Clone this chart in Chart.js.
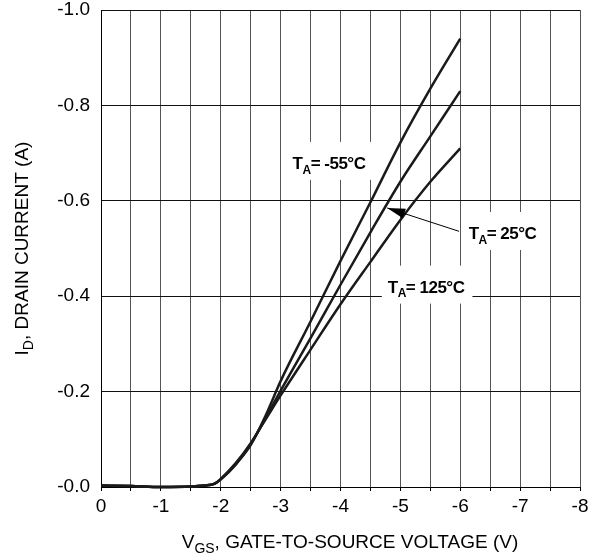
<!DOCTYPE html>
<html>
<head>
<meta charset="utf-8">
<script src="https://cdn.jsdelivr.net/npm/chart.js@4.4.1/dist/chart.umd.min.js"></script>
<style>
  html, body { margin: 0; padding: 0; background: #fff; }
  #wrap { width: 600px; height: 560px; }
</style>
</head>
<body>
<div id="wrap"><canvas id="myChart" width="600" height="560"></canvas></div>
<script>
// gate-to-source voltage (V) and drain current (A)
var vgs = [0, -0.5, -1, -1.5, -1.8, -1.9, -2, -2.25, -2.5, -2.75, -3, -3.5, -4, -4.5, -5, -5.5, -6];
var idMinus55 = [-0.003, -0.002, 0.0, -0.001, -0.004, -0.007, -0.016, -0.048, -0.088, -0.15, -0.222, -0.347, -0.474, -0.597, -0.722, -0.835, -0.94];
var id25 = [-0.003, -0.002, 0.0, -0.001, -0.004, -0.007, -0.016, -0.047, -0.09, -0.145, -0.202, -0.312, -0.424, -0.534, -0.64, -0.735, -0.83];
var id125 = [-0.003, -0.002, 0.0, -0.001, -0.004, -0.007, -0.017, -0.05, -0.092, -0.142, -0.192, -0.288, -0.383, -0.472, -0.56, -0.64, -0.71];

var seriesNames = ["-55°C", "25°C", "125°C"];
// label anchor (left edge, baseline) in data units
var labelX = [-3.2, -6.14, -4.79];
var labelY = [-0.667, -0.52, -0.4075];
// arrow for the 25°C label: from -> to, data units
var arrowFrom = [-5.98, -0.536];
var arrowTo = [-4.78, -0.585];

var FONT = "'Liberation Sans', Arial, Helvetica, sans-serif";

function toPoints(ys){
    return vgs.map(function(v, i){ return {x: v, y: ys[i]}; });
}

function makeSet(name, ys){
    return {
        label: name,
        data: toPoints(ys),
        borderColor: '#1a1a1a',
        borderWidth: 2.5,
        pointRadius: 0,
        cubicInterpolationMode: 'monotone',
        clip: false,
        fill: false
    };
}

// text with a subscript piece, e.g. I_D
function partsWidth(ctx, parts, size, subSize, weight){
    var w = 0;
    parts.forEach(function(p){
        ctx.font = weight + ' ' + (p.sub ? subSize : size) + 'px ' + FONT;
        w += ctx.measureText(p.t).width;
    });
    return w;
}

function drawParts(ctx, parts, x, y, size, subSize, weight){
    var cx = x;
    parts.forEach(function(p){
        ctx.font = weight + ' ' + (p.sub ? subSize : size) + 'px ' + FONT;
        ctx.fillText(p.t, cx, p.sub ? y + size * 0.28 : y);
        cx += ctx.measureText(p.t).width;
    });
}

var titlesPlugin = {
    id: 'titles',
    afterDraw: function(chart){
        var ctx = chart.ctx;
        var area = chart.chartArea;
        ctx.save();
        ctx.fillStyle = '#000';
        ctx.textBaseline = 'alphabetic';
        ctx.textAlign = 'left';

        // x title
        var xp = [{t: 'V'}, {t: 'GS', sub: true}, {t: ', GATE-TO-SOURCE VOLTAGE (V)'}];
        var w = partsWidth(ctx, xp, 19, 14, 'normal');
        drawParts(ctx, xp, 350 - w / 2, 548, 19, 14, 'normal');

        // y title, rotated
        var yp = [{t: 'I'}, {t: 'D', sub: true}, {t: ', DRAIN CURRENT (A)'}];
        w = partsWidth(ctx, yp, 19, 14, 'normal');
        ctx.translate(28, (area.top + area.bottom) / 2);
        ctx.rotate(-Math.PI / 2);
        drawParts(ctx, yp, -w / 2, 0, 19, 14, 'normal');
        ctx.restore();
    }
};

var labelsPlugin = {
    id: 'tempLabels',
    afterDatasetsDraw: function(chart){
        var ctx = chart.ctx;
        var xs = chart.scales.x, ys = chart.scales.y;
        ctx.save();

        // arrow to the 25°C curve
        var ax0 = xs.getPixelForValue(arrowFrom[0]), ay0 = ys.getPixelForValue(arrowFrom[1]);
        var ax1 = xs.getPixelForValue(arrowTo[0]), ay1 = ys.getPixelForValue(arrowTo[1]);
        ctx.strokeStyle = '#000';
        ctx.lineWidth = 1;
        ctx.beginPath();
        ctx.moveTo(ax0, ay0);
        ctx.lineTo(ax1, ay1);
        ctx.stroke();
        var ang = Math.atan2(ay1 - ay0, ax1 - ax0);
        var len = 18, half = 5;
        ctx.fillStyle = '#000';
        ctx.beginPath();
        ctx.moveTo(ax1, ay1);
        ctx.lineTo(ax1 - len * Math.cos(ang) + half * Math.sin(ang), ay1 - len * Math.sin(ang) - half * Math.cos(ang));
        ctx.lineTo(ax1 - len * Math.cos(ang) - half * Math.sin(ang), ay1 - len * Math.sin(ang) + half * Math.cos(ang));
        ctx.closePath();
        ctx.fill();

        ctx.textBaseline = 'alphabetic';
        ctx.textAlign = 'left';
        ctx.letterSpacing = '-0.5px';
        for (var i = 0; i < seriesNames.length; i++){
            var parts = [{t: 'T'}, {t: 'A', sub: true}, {t: '= ' + seriesNames[i]}];
            var px = xs.getPixelForValue(labelX[i]);
            var py = ys.getPixelForValue(labelY[i]);
            var w = partsWidth(ctx, parts, 17, 12, 'bold');
            ctx.fillStyle = '#fff';
            ctx.fillRect(px - 6, py - 27, w + 14, 38);
            ctx.fillStyle = '#000';
            drawParts(ctx, parts, px, py, 17, 12, 'bold');
        }
        ctx.restore();
    }
};

new Chart(document.getElementById('myChart'), {
    type: 'line',
    data: {
        datasets: [
            makeSet(seriesNames[0], idMinus55),
            makeSet(seriesNames[1], id25),
            makeSet(seriesNames[2], id125)
        ]
    },
    options: {
        responsive: false,
        animation: false,
        devicePixelRatio: 1,
        layout: { padding: { left: 0, right: 20, top: 0, bottom: 0 } },
        plugins: {
            legend: { display: false },
            tooltip: { enabled: false }
        },
        scales: {
            x: {
                type: 'linear',
                min: -8,
                max: 0,
                reverse: true,
                afterFit: function(s){ s.height = 73; },
                grid: { color: '#555', lineWidth: 1, drawTicks: true, tickLength: 4, tickColor: '#000' },
                border: { color: '#000', width: 1 },
                ticks: {
                    stepSize: 0.5,
                    autoSkip: false,
                    maxRotation: 0,
                    padding: 4,
                    color: '#000',
                    font: { family: FONT, size: 19 },
                    callback: function(v){
                        if (Math.abs(v - Math.round(v)) > 1e-6) return '';
                        return v === 0 ? '0' : String(Math.round(v));
                    }
                }
            },
            y: {
                type: 'linear',
                min: -1,
                max: 0,
                reverse: true,
                afterFit: function(s){
                    s.width = 101;
                    s.paddingTop = 10;
                    s.paddingBottom = 0;
                },
                grid: { color: '#111', lineWidth: 1, drawTicks: false },
                border: { color: '#000', width: 1 },
                ticks: {
                    stepSize: 0.2,
                    padding: 11,
                    color: '#000',
                    font: { family: FONT, size: 19 },
                    callback: function(v){
                        if (Math.abs(v) < 1e-9) return '-0.0';
                        return v.toFixed(1);
                    }
                }
            }
        }
    },
    plugins: [labelsPlugin, titlesPlugin]
});
</script>
</body>
</html>
